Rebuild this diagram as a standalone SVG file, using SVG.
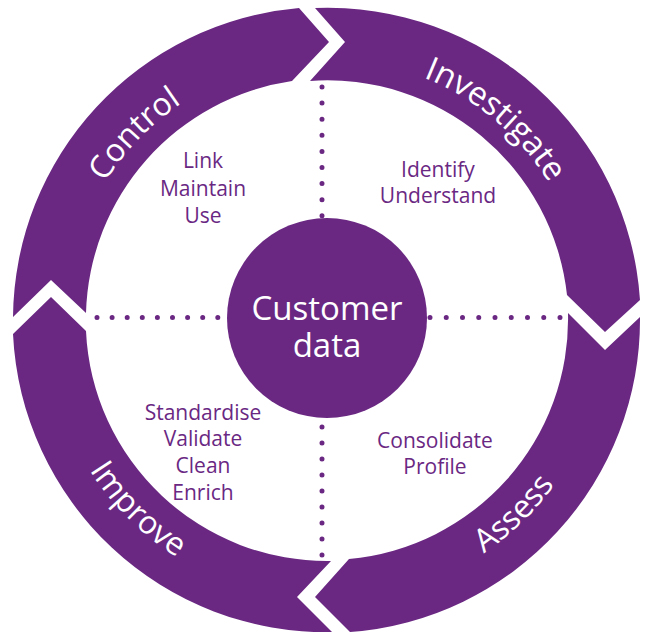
<svg xmlns="http://www.w3.org/2000/svg" width="645" height="637" viewBox="0 0 645 637">
<style>
.seg{fill:#6a2883}
.ring{font-family:"Open Sans","Noto Sans",sans-serif;font-size:32px;fill:#ffffff}
.lbl{font-family:"Open Sans","Noto Sans",sans-serif;font-size:21px;fill:#6a2883;text-anchor:middle}
.ctr{font-family:"Open Sans","Noto Sans",sans-serif;font-size:33px;fill:#ffffff;text-anchor:middle}
.dot{stroke:#6a2883;stroke-width:5;stroke-linecap:round;fill:none}
</style>
<defs>
<path id="pControl" d="M66.6,301.8 A261,261 0 0 1 299.7,60.4"/>
<path id="pInvestigate" d="M327,59 A261,261 0 0 1 584,274.7"/>
<path id="pAssess" d="M346.6,600.3 A281,281 0 0 0 606.5,349.4"/>
<path id="pImprove" d="M47.1,344.5 A281,281 0 0 0 302.5,599.9"/>
</defs>
<rect width="645" height="637" fill="#ffffff"/>
<g id="connectors">
<line class="dot" x1="322" y1="87" x2="322" y2="216.5" stroke-dasharray="0 16.1"/>
<line class="dot" x1="322" y1="555" x2="322" y2="426.5" stroke-dasharray="0 16"/>
<line class="dot" x1="97" y1="317.5" x2="218.5" y2="317.5" stroke-dasharray="0 15.1"/>
<line class="dot" x1="430" y1="317.5" x2="560.5" y2="317.5" stroke-dasharray="0 16.25"/>
</g>
<g id="control">
<path class="seg" d="M13,317 A313,313 0 0 1 299,8 L329,42 L292,81 A241,241 0 0 0 86,313 L51,280 Z"/>
<text class="ring"><textPath href="#pControl" startOffset="50%" text-anchor="middle">Control</textPath></text>
<text class="lbl" x="203" y="168">Link</text>
<text class="lbl" x="203" y="196">Maintain</text>
<text class="lbl" x="203" y="223">Use</text>
</g>
<g id="investigate">
<path class="seg" d="M315,8 A313,313 0 0 1 640,300 L605,332 L567,295 A241,241 0 0 0 310,81 L345,42 Z"/>
<text class="ring" style="font-size:33px"><textPath href="#pInvestigate" startOffset="50%" text-anchor="middle">Investigate</textPath></text>
<text class="lbl" x="438" y="177">Identify</text>
<text class="lbl" x="438" y="203">Understand</text>
</g>
<g id="assess">
<path class="seg" d="M640,317 A313,313 0 0 1 350,632 L315,597 L349,559 A241,241 0 0 0 568,313 L605,350 Z"/>
<text class="ring"><textPath href="#pAssess" startOffset="50%" text-anchor="middle">Assess</textPath></text>
<text class="lbl" x="435" y="448">Consolidate</text>
<text class="lbl" x="435" y="474">Profile</text>
</g>
<g id="improve">
<path class="seg" d="M332,632 A313,313 0 0 1 13,334 L51,297 L86,331 A241,241 0 0 0 331,561 L297,597 Z"/>
<text class="ring"><textPath href="#pImprove" startOffset="50%" text-anchor="middle">Improve</textPath></text>
<text class="lbl" x="203" y="420">Standardise</text>
<text class="lbl" x="203" y="446">Validate</text>
<text class="lbl" x="203" y="473">Clean</text>
<text class="lbl" x="203" y="500">Enrich</text>
</g>
<g id="customer-data">
<circle cx="327" cy="318" r="100" fill="#6a2883"/>
<text class="ctr" x="327" y="320">Customer</text>
<text class="ctr" x="327" y="357">data</text>
</g>
</svg>
